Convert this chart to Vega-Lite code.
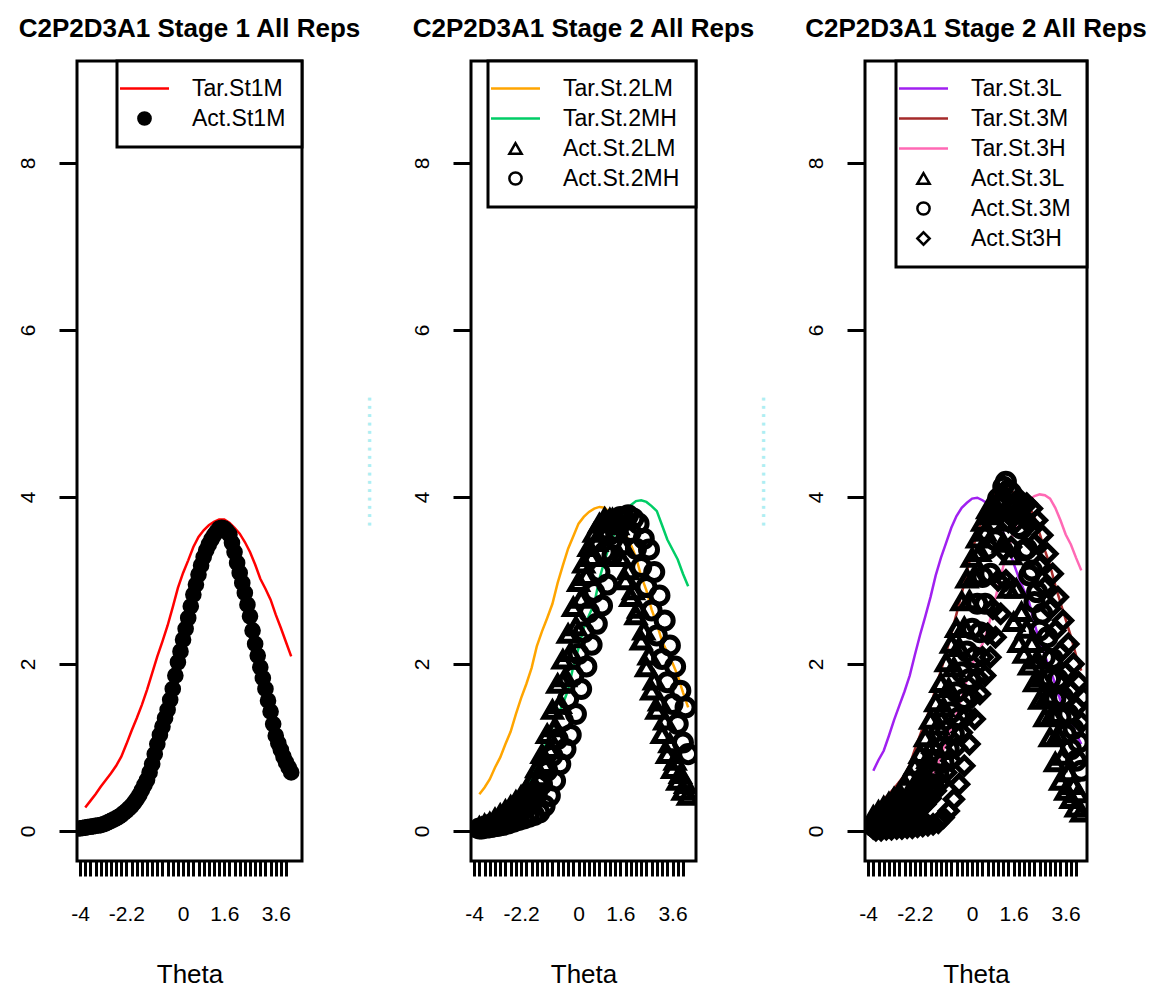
{
  "$schema": "https://vega.github.io/schema/vega-lite/v6.json",
  "background": "white",
  "padding": {"left": 15, "top": 14, "right": 4, "bottom": 3},
  "bounds": "flush",
  "spacing": 169,
  "config": {
    "view": {"stroke": "black", "strokeWidth": 3},
    "font": "Liberation Sans",
    "axis": {"grid": false, "domain": false, "tickColor": "black", "tickWidth": 3, "labelColor": "black", "labelFont": "Liberation Sans", "labelFontSize": 21, "titleFont": "Liberation Sans", "titleFontSize": 26, "titleFontWeight": "normal", "titleColor": "black", "labelFlush": false, "labelOverlap": false},
    "title": {"font": "Liberation Sans", "fontSize": 26, "fontWeight": "bold", "color": "black", "offset": 18, "anchor": "middle"},
    "legend": {"orient": "top-right", "offset": 0, "padding": 16, "rowPadding": 6, "labelOffset": 36, "labelFont": "Liberation Sans", "labelFontSize": 23, "labelColor": "black", "symbolSize": 150, "symbolStrokeWidth": 2.5, "strokeColor": "black", "strokeWidth": 3, "fillColor": "white", "labelLimit": 300, "title": null}
  },
  "resolve": {"scale": {"shape": "independent", "color": "independent", "stroke": "independent"}, "legend": {"shape": "independent", "color": "independent", "stroke": "independent"}},
  "datasets": {
    "p1tar": [
      {"t":-3.8,"y":0.28,"s":"Tar.St1M"},{"t":-3.6,"y":0.36,"s":"Tar.St1M"},{"t":-3.4,"y":0.44,"s":"Tar.St1M"},{"t":-3.2,"y":0.53,"s":"Tar.St1M"},{"t":-3.0,"y":0.61,"s":"Tar.St1M"},{"t":-2.8,"y":0.69,"s":"Tar.St1M"},{"t":-2.6,"y":0.78,"s":"Tar.St1M"},{"t":-2.4,"y":0.89,"s":"Tar.St1M"},{"t":-2.2,"y":1.04,"s":"Tar.St1M"},{"t":-2.0,"y":1.20,"s":"Tar.St1M"},{"t":-1.8,"y":1.35,"s":"Tar.St1M"},{"t":-1.6,"y":1.51,"s":"Tar.St1M"},{"t":-1.4,"y":1.69,"s":"Tar.St1M"},{"t":-1.2,"y":1.89,"s":"Tar.St1M"},{"t":-1.0,"y":2.09,"s":"Tar.St1M"},{"t":-0.8,"y":2.27,"s":"Tar.St1M"},{"t":-0.6,"y":2.46,"s":"Tar.St1M"},{"t":-0.4,"y":2.68,"s":"Tar.St1M"},{"t":-0.2,"y":2.91,"s":"Tar.St1M"},{"t":0.0,"y":3.09,"s":"Tar.St1M"},{"t":0.2,"y":3.24,"s":"Tar.St1M"},{"t":0.4,"y":3.40,"s":"Tar.St1M"},{"t":0.6,"y":3.52,"s":"Tar.St1M"},{"t":0.8,"y":3.60,"s":"Tar.St1M"},{"t":1.0,"y":3.66,"s":"Tar.St1M"},{"t":1.2,"y":3.70,"s":"Tar.St1M"},{"t":1.4,"y":3.73,"s":"Tar.St1M"},{"t":1.6,"y":3.73,"s":"Tar.St1M"},{"t":1.8,"y":3.69,"s":"Tar.St1M"},{"t":2.0,"y":3.63,"s":"Tar.St1M"},{"t":2.2,"y":3.56,"s":"Tar.St1M"},{"t":2.4,"y":3.46,"s":"Tar.St1M"},{"t":2.6,"y":3.34,"s":"Tar.St1M"},{"t":2.8,"y":3.19,"s":"Tar.St1M"},{"t":3.0,"y":3.02,"s":"Tar.St1M"},{"t":3.2,"y":2.90,"s":"Tar.St1M"},{"t":3.4,"y":2.77,"s":"Tar.St1M"},{"t":3.6,"y":2.59,"s":"Tar.St1M"},{"t":3.8,"y":2.43,"s":"Tar.St1M"},{"t":4.0,"y":2.26,"s":"Tar.St1M"},{"t":4.2,"y":2.09,"s":"Tar.St1M"}
    ],
    "p1act": [
      {"t":-4.0,"y":0.03,"s":"Act.St1M"},{"t":-3.9,"y":0.035,"s":"Act.St1M"},{"t":-3.8,"y":0.04,"s":"Act.St1M"},{"t":-3.7,"y":0.045,"s":"Act.St1M"},{"t":-3.6,"y":0.05,"s":"Act.St1M"},{"t":-3.5,"y":0.055,"s":"Act.St1M"},{"t":-3.4,"y":0.06,"s":"Act.St1M"},{"t":-3.3,"y":0.065,"s":"Act.St1M"},{"t":-3.2,"y":0.07,"s":"Act.St1M"},{"t":-3.1,"y":0.08,"s":"Act.St1M"},{"t":-3.0,"y":0.09,"s":"Act.St1M"},{"t":-2.9,"y":0.105,"s":"Act.St1M"},{"t":-2.8,"y":0.12,"s":"Act.St1M"},{"t":-2.7,"y":0.135,"s":"Act.St1M"},{"t":-2.6,"y":0.15,"s":"Act.St1M"},{"t":-2.5,"y":0.17,"s":"Act.St1M"},{"t":-2.4,"y":0.19,"s":"Act.St1M"},{"t":-2.3,"y":0.215,"s":"Act.St1M"},{"t":-2.2,"y":0.24,"s":"Act.St1M"},{"t":-2.1,"y":0.27,"s":"Act.St1M"},{"t":-2.0,"y":0.30,"s":"Act.St1M"},{"t":-1.9,"y":0.34,"s":"Act.St1M"},{"t":-1.8,"y":0.38,"s":"Act.St1M"},{"t":-1.7,"y":0.43,"s":"Act.St1M"},{"t":-1.6,"y":0.49,"s":"Act.St1M"},{"t":-1.5,"y":0.55,"s":"Act.St1M"},{"t":-1.4,"y":0.61,"s":"Act.St1M"},{"t":-1.3,"y":0.70,"s":"Act.St1M"},{"t":-1.2,"y":0.80,"s":"Act.St1M"},{"t":-1.1,"y":0.92,"s":"Act.St1M"},{"t":-1.0,"y":1.04,"s":"Act.St1M"},{"t":-0.9,"y":1.15,"s":"Act.St1M"},{"t":-0.8,"y":1.25,"s":"Act.St1M"},{"t":-0.7,"y":1.35,"s":"Act.St1M"},{"t":-0.6,"y":1.45,"s":"Act.St1M"},{"t":-0.5,"y":1.57,"s":"Act.St1M"},{"t":-0.4,"y":1.70,"s":"Act.St1M"},{"t":-0.3,"y":1.86,"s":"Act.St1M"},{"t":-0.2,"y":2.02,"s":"Act.St1M"},{"t":-0.1,"y":2.15,"s":"Act.St1M"},{"t":0.0,"y":2.29,"s":"Act.St1M"},{"t":0.1,"y":2.42,"s":"Act.St1M"},{"t":0.2,"y":2.55,"s":"Act.St1M"},{"t":0.3,"y":2.69,"s":"Act.St1M"},{"t":0.4,"y":2.83,"s":"Act.St1M"},{"t":0.5,"y":2.95,"s":"Act.St1M"},{"t":0.6,"y":3.07,"s":"Act.St1M"},{"t":0.7,"y":3.18,"s":"Act.St1M"},{"t":0.8,"y":3.28,"s":"Act.St1M"},{"t":0.9,"y":3.36,"s":"Act.St1M"},{"t":1.0,"y":3.43,"s":"Act.St1M"},{"t":1.1,"y":3.49,"s":"Act.St1M"},{"t":1.2,"y":3.54,"s":"Act.St1M"},{"t":1.3,"y":3.58,"s":"Act.St1M"},{"t":1.4,"y":3.62,"s":"Act.St1M"},{"t":1.5,"y":3.63,"s":"Act.St1M"},{"t":1.6,"y":3.62,"s":"Act.St1M"},{"t":1.7,"y":3.59,"s":"Act.St1M"},{"t":1.8,"y":3.55,"s":"Act.St1M"},{"t":1.9,"y":3.45,"s":"Act.St1M"},{"t":2.0,"y":3.34,"s":"Act.St1M"},{"t":2.1,"y":3.21,"s":"Act.St1M"},{"t":2.2,"y":3.09,"s":"Act.St1M"},{"t":2.3,"y":2.97,"s":"Act.St1M"},{"t":2.4,"y":2.85,"s":"Act.St1M"},{"t":2.5,"y":2.71,"s":"Act.St1M"},{"t":2.6,"y":2.57,"s":"Act.St1M"},{"t":2.7,"y":2.40,"s":"Act.St1M"},{"t":2.8,"y":2.24,"s":"Act.St1M"},{"t":2.9,"y":2.10,"s":"Act.St1M"},{"t":3.0,"y":1.96,"s":"Act.St1M"},{"t":3.1,"y":1.83,"s":"Act.St1M"},{"t":3.2,"y":1.70,"s":"Act.St1M"},{"t":3.3,"y":1.56,"s":"Act.St1M"},{"t":3.4,"y":1.43,"s":"Act.St1M"},{"t":3.5,"y":1.28,"s":"Act.St1M"},{"t":3.6,"y":1.14,"s":"Act.St1M"},{"t":3.7,"y":1.05,"s":"Act.St1M"},{"t":3.8,"y":0.97,"s":"Act.St1M"},{"t":3.9,"y":0.89,"s":"Act.St1M"},{"t":4.0,"y":0.82,"s":"Act.St1M"},{"t":4.1,"y":0.76,"s":"Act.St1M"},{"t":4.2,"y":0.70,"s":"Act.St1M"}
    ],
    "p2tar": [
      {"t":-3.8,"y":0.44,"s":"Tar.St.2LM"},{"t":-3.6,"y":0.52,"s":"Tar.St.2LM"},{"t":-3.4,"y":0.62,"s":"Tar.St.2LM"},{"t":-3.2,"y":0.76,"s":"Tar.St.2LM"},{"t":-3.0,"y":0.88,"s":"Tar.St.2LM"},{"t":-2.8,"y":1.04,"s":"Tar.St.2LM"},{"t":-2.6,"y":1.19,"s":"Tar.St.2LM"},{"t":-2.4,"y":1.40,"s":"Tar.St.2LM"},{"t":-2.2,"y":1.59,"s":"Tar.St.2LM"},{"t":-2.0,"y":1.76,"s":"Tar.St.2LM"},{"t":-1.8,"y":1.95,"s":"Tar.St.2LM"},{"t":-1.6,"y":2.21,"s":"Tar.St.2LM"},{"t":-1.4,"y":2.39,"s":"Tar.St.2LM"},{"t":-1.2,"y":2.55,"s":"Tar.St.2LM"},{"t":-1.0,"y":2.72,"s":"Tar.St.2LM"},{"t":-0.8,"y":2.97,"s":"Tar.St.2LM"},{"t":-0.6,"y":3.18,"s":"Tar.St.2LM"},{"t":-0.4,"y":3.38,"s":"Tar.St.2LM"},{"t":-0.2,"y":3.53,"s":"Tar.St.2LM"},{"t":0.0,"y":3.68,"s":"Tar.St.2LM"},{"t":0.2,"y":3.76,"s":"Tar.St.2LM"},{"t":0.4,"y":3.82,"s":"Tar.St.2LM"},{"t":0.6,"y":3.86,"s":"Tar.St.2LM"},{"t":0.8,"y":3.88,"s":"Tar.St.2LM"},{"t":1.0,"y":3.87,"s":"Tar.St.2LM"},{"t":1.2,"y":3.81,"s":"Tar.St.2LM"},{"t":1.4,"y":3.74,"s":"Tar.St.2LM"},{"t":1.6,"y":3.64,"s":"Tar.St.2LM"},{"t":1.8,"y":3.55,"s":"Tar.St.2LM"},{"t":2.0,"y":3.43,"s":"Tar.St.2LM"},{"t":2.2,"y":3.28,"s":"Tar.St.2LM"},{"t":2.4,"y":3.05,"s":"Tar.St.2LM"},{"t":2.6,"y":2.88,"s":"Tar.St.2LM"},{"t":2.8,"y":2.65,"s":"Tar.St.2LM"},{"t":3.0,"y":2.48,"s":"Tar.St.2LM"},{"t":3.2,"y":2.27,"s":"Tar.St.2LM"},{"t":3.4,"y":2.14,"s":"Tar.St.2LM"},{"t":3.6,"y":2.01,"s":"Tar.St.2LM"},{"t":3.8,"y":1.86,"s":"Tar.St.2LM"},{"t":4.0,"y":1.66,"s":"Tar.St.2LM"},{"t":4.2,"y":1.48,"s":"Tar.St.2LM"},
      {"t":-3.8,"y":0.10,"s":"Tar.St.2MH"},{"t":-3.6,"y":0.12,"s":"Tar.St.2MH"},{"t":-3.4,"y":0.14,"s":"Tar.St.2MH"},{"t":-3.2,"y":0.18,"s":"Tar.St.2MH"},{"t":-3.0,"y":0.22,"s":"Tar.St.2MH"},{"t":-2.8,"y":0.25,"s":"Tar.St.2MH"},{"t":-2.6,"y":0.30,"s":"Tar.St.2MH"},{"t":-2.4,"y":0.36,"s":"Tar.St.2MH"},{"t":-2.2,"y":0.43,"s":"Tar.St.2MH"},{"t":-2.0,"y":0.52,"s":"Tar.St.2MH"},{"t":-1.8,"y":0.63,"s":"Tar.St.2MH"},{"t":-1.6,"y":0.78,"s":"Tar.St.2MH"},{"t":-1.4,"y":0.95,"s":"Tar.St.2MH"},{"t":-1.2,"y":1.07,"s":"Tar.St.2MH"},{"t":-1.0,"y":1.25,"s":"Tar.St.2MH"},{"t":-0.8,"y":1.39,"s":"Tar.St.2MH"},{"t":-0.6,"y":1.52,"s":"Tar.St.2MH"},{"t":-0.4,"y":1.69,"s":"Tar.St.2MH"},{"t":-0.2,"y":1.97,"s":"Tar.St.2MH"},{"t":0.0,"y":2.19,"s":"Tar.St.2MH"},{"t":0.2,"y":2.43,"s":"Tar.St.2MH"},{"t":0.4,"y":2.58,"s":"Tar.St.2MH"},{"t":0.6,"y":2.72,"s":"Tar.St.2MH"},{"t":0.8,"y":3.02,"s":"Tar.St.2MH"},{"t":1.0,"y":3.24,"s":"Tar.St.2MH"},{"t":1.2,"y":3.43,"s":"Tar.St.2MH"},{"t":1.4,"y":3.58,"s":"Tar.St.2MH"},{"t":1.6,"y":3.72,"s":"Tar.St.2MH"},{"t":1.8,"y":3.83,"s":"Tar.St.2MH"},{"t":2.0,"y":3.90,"s":"Tar.St.2MH"},{"t":2.2,"y":3.95,"s":"Tar.St.2MH"},{"t":2.4,"y":3.96,"s":"Tar.St.2MH"},{"t":2.6,"y":3.94,"s":"Tar.St.2MH"},{"t":2.8,"y":3.89,"s":"Tar.St.2MH"},{"t":3.0,"y":3.83,"s":"Tar.St.2MH"},{"t":3.2,"y":3.66,"s":"Tar.St.2MH"},{"t":3.4,"y":3.49,"s":"Tar.St.2MH"},{"t":3.6,"y":3.37,"s":"Tar.St.2MH"},{"t":3.8,"y":3.25,"s":"Tar.St.2MH"},{"t":4.0,"y":3.08,"s":"Tar.St.2MH"},{"t":4.2,"y":2.93,"s":"Tar.St.2MH"}
    ],
    "p2act": [
      {"t":-3.8,"y":0.05,"s":"Act.St.2LM"},{"t":-3.6,"y":0.08,"s":"Act.St.2LM"},{"t":-3.4,"y":0.10,"s":"Act.St.2LM"},{"t":-3.2,"y":0.15,"s":"Act.St.2LM"},{"t":-3.0,"y":0.20,"s":"Act.St.2LM"},{"t":-2.8,"y":0.25,"s":"Act.St.2LM"},{"t":-2.6,"y":0.30,"s":"Act.St.2LM"},{"t":-2.4,"y":0.36,"s":"Act.St.2LM"},{"t":-2.2,"y":0.42,"s":"Act.St.2LM"},{"t":-2.0,"y":0.50,"s":"Act.St.2LM"},{"t":-1.8,"y":0.60,"s":"Act.St.2LM"},{"t":-1.6,"y":0.75,"s":"Act.St.2LM"},{"t":-1.4,"y":0.92,"s":"Act.St.2LM"},{"t":-1.2,"y":1.16,"s":"Act.St.2LM"},{"t":-1.0,"y":1.45,"s":"Act.St.2LM"},{"t":-0.8,"y":1.76,"s":"Act.St.2LM"},{"t":-0.6,"y":2.05,"s":"Act.St.2LM"},{"t":-0.4,"y":2.36,"s":"Act.St.2LM"},{"t":-0.2,"y":2.68,"s":"Act.St.2LM"},{"t":0.0,"y":2.98,"s":"Act.St.2LM"},{"t":0.2,"y":3.20,"s":"Act.St.2LM"},{"t":0.4,"y":3.40,"s":"Act.St.2LM"},{"t":0.6,"y":3.57,"s":"Act.St.2LM"},{"t":0.8,"y":3.68,"s":"Act.St.2LM"},{"t":1.0,"y":3.75,"s":"Act.St.2LM"},{"t":1.2,"y":3.74,"s":"Act.St.2LM"},{"t":1.4,"y":3.58,"s":"Act.St.2LM"},{"t":1.6,"y":3.28,"s":"Act.St.2LM"},{"t":1.8,"y":3.00,"s":"Act.St.2LM"},{"t":2.0,"y":2.80,"s":"Act.St.2LM"},{"t":2.2,"y":2.58,"s":"Act.St.2LM"},{"t":2.4,"y":2.28,"s":"Act.St.2LM"},{"t":2.6,"y":1.96,"s":"Act.St.2LM"},{"t":2.8,"y":1.68,"s":"Act.St.2LM"},{"t":3.0,"y":1.45,"s":"Act.St.2LM"},{"t":3.2,"y":1.16,"s":"Act.St.2LM"},{"t":3.4,"y":0.92,"s":"Act.St.2LM"},{"t":3.6,"y":0.74,"s":"Act.St.2LM"},{"t":3.8,"y":0.60,"s":"Act.St.2LM"},{"t":4.0,"y":0.48,"s":"Act.St.2LM"},{"t":4.2,"y":0.42,"s":"Act.St.2LM"},
      {"t":-3.7,"y":0.04,"s":"Act.St.2LM"},{"t":-3.5,"y":0.06,"s":"Act.St.2LM"},{"t":-3.3,"y":0.08,"s":"Act.St.2LM"},{"t":-3.1,"y":0.11,"s":"Act.St.2LM"},{"t":-2.9,"y":0.15,"s":"Act.St.2LM"},{"t":-2.7,"y":0.19,"s":"Act.St.2LM"},{"t":-2.5,"y":0.24,"s":"Act.St.2LM"},{"t":-2.3,"y":0.30,"s":"Act.St.2LM"},{"t":-2.1,"y":0.36,"s":"Act.St.2LM"},{"t":-1.9,"y":0.43,"s":"Act.St.2LM"},{"t":-1.7,"y":0.52,"s":"Act.St.2LM"},{"t":-1.5,"y":0.64,"s":"Act.St.2LM"},{"t":-1.3,"y":0.80,"s":"Act.St.2LM"},{"t":-1.1,"y":0.98,"s":"Act.St.2LM"},{"t":-0.9,"y":1.24,"s":"Act.St.2LM"},{"t":-0.7,"y":1.52,"s":"Act.St.2LM"},{"t":-0.5,"y":1.84,"s":"Act.St.2LM"},{"t":-0.3,"y":2.14,"s":"Act.St.2LM"},{"t":-0.1,"y":2.45,"s":"Act.St.2LM"},{"t":0.1,"y":2.78,"s":"Act.St.2LM"},{"t":0.3,"y":3.05,"s":"Act.St.2LM"},{"t":0.5,"y":3.28,"s":"Act.St.2LM"},{"t":0.7,"y":3.46,"s":"Act.St.2LM"},{"t":0.9,"y":3.60,"s":"Act.St.2LM"},{"t":1.1,"y":3.70,"s":"Act.St.2LM"},{"t":1.3,"y":3.74,"s":"Act.St.2LM"},{"t":1.5,"y":3.66,"s":"Act.St.2LM"},{"t":1.7,"y":3.42,"s":"Act.St.2LM"},{"t":1.9,"y":3.12,"s":"Act.St.2LM"},{"t":2.1,"y":2.88,"s":"Act.St.2LM"},{"t":2.3,"y":2.66,"s":"Act.St.2LM"},{"t":2.5,"y":2.40,"s":"Act.St.2LM"},{"t":2.7,"y":2.10,"s":"Act.St.2LM"},{"t":2.9,"y":1.80,"s":"Act.St.2LM"},{"t":3.1,"y":1.55,"s":"Act.St.2LM"},{"t":3.3,"y":1.32,"s":"Act.St.2LM"},{"t":3.5,"y":1.05,"s":"Act.St.2LM"},{"t":3.7,"y":0.84,"s":"Act.St.2LM"},{"t":3.9,"y":0.68,"s":"Act.St.2LM"},{"t":4.1,"y":0.56,"s":"Act.St.2LM"},
      {"t":-3.8,"y":0.03,"s":"Act.St.2MH"},{"t":-3.6,"y":0.05,"s":"Act.St.2MH"},{"t":-3.4,"y":0.07,"s":"Act.St.2MH"},{"t":-3.2,"y":0.09,"s":"Act.St.2MH"},{"t":-3.0,"y":0.11,"s":"Act.St.2MH"},{"t":-2.8,"y":0.13,"s":"Act.St.2MH"},{"t":-2.6,"y":0.16,"s":"Act.St.2MH"},{"t":-2.4,"y":0.19,"s":"Act.St.2MH"},{"t":-2.2,"y":0.23,"s":"Act.St.2MH"},{"t":-2.0,"y":0.28,"s":"Act.St.2MH"},{"t":-1.8,"y":0.34,"s":"Act.St.2MH"},{"t":-1.6,"y":0.44,"s":"Act.St.2MH"},{"t":-1.4,"y":0.56,"s":"Act.St.2MH"},{"t":-1.2,"y":0.72,"s":"Act.St.2MH"},{"t":-1.0,"y":0.90,"s":"Act.St.2MH"},{"t":-0.8,"y":1.10,"s":"Act.St.2MH"},{"t":-0.6,"y":1.32,"s":"Act.St.2MH"},{"t":-0.4,"y":1.58,"s":"Act.St.2MH"},{"t":-0.2,"y":1.86,"s":"Act.St.2MH"},{"t":0.0,"y":2.12,"s":"Act.St.2MH"},{"t":0.2,"y":2.38,"s":"Act.St.2MH"},{"t":0.4,"y":2.62,"s":"Act.St.2MH"},{"t":0.6,"y":2.86,"s":"Act.St.2MH"},{"t":0.8,"y":3.10,"s":"Act.St.2MH"},{"t":1.0,"y":3.34,"s":"Act.St.2MH"},{"t":1.2,"y":3.55,"s":"Act.St.2MH"},{"t":1.4,"y":3.70,"s":"Act.St.2MH"},{"t":1.6,"y":3.76,"s":"Act.St.2MH"},{"t":1.8,"y":3.72,"s":"Act.St.2MH"},{"t":2.0,"y":3.58,"s":"Act.St.2MH"},{"t":2.2,"y":3.38,"s":"Act.St.2MH"},{"t":2.4,"y":3.16,"s":"Act.St.2MH"},{"t":2.6,"y":2.92,"s":"Act.St.2MH"},{"t":2.8,"y":2.64,"s":"Act.St.2MH"},{"t":3.0,"y":2.34,"s":"Act.St.2MH"},{"t":3.2,"y":2.06,"s":"Act.St.2MH"},{"t":3.4,"y":1.78,"s":"Act.St.2MH"},{"t":3.6,"y":1.52,"s":"Act.St.2MH"},{"t":3.8,"y":1.28,"s":"Act.St.2MH"},{"t":4.0,"y":1.06,"s":"Act.St.2MH"},{"t":4.2,"y":0.92,"s":"Act.St.2MH"},
      {"t":-3.7,"y":0.03,"s":"Act.St.2MH"},{"t":-3.5,"y":0.04,"s":"Act.St.2MH"},{"t":-3.3,"y":0.05,"s":"Act.St.2MH"},{"t":-3.1,"y":0.06,"s":"Act.St.2MH"},{"t":-2.9,"y":0.07,"s":"Act.St.2MH"},{"t":-2.7,"y":0.09,"s":"Act.St.2MH"},{"t":-2.5,"y":0.11,"s":"Act.St.2MH"},{"t":-2.3,"y":0.13,"s":"Act.St.2MH"},{"t":-2.1,"y":0.15,"s":"Act.St.2MH"},{"t":-1.9,"y":0.17,"s":"Act.St.2MH"},{"t":-1.7,"y":0.19,"s":"Act.St.2MH"},{"t":-1.5,"y":0.22,"s":"Act.St.2MH"},{"t":-1.3,"y":0.30,"s":"Act.St.2MH"},{"t":-1.1,"y":0.42,"s":"Act.St.2MH"},{"t":-0.9,"y":0.60,"s":"Act.St.2MH"},{"t":-0.7,"y":0.80,"s":"Act.St.2MH"},{"t":-0.5,"y":0.98,"s":"Act.St.2MH"},{"t":-0.3,"y":1.15,"s":"Act.St.2MH"},{"t":-0.1,"y":1.40,"s":"Act.St.2MH"},{"t":0.1,"y":1.70,"s":"Act.St.2MH"},{"t":0.3,"y":1.97,"s":"Act.St.2MH"},{"t":0.5,"y":2.23,"s":"Act.St.2MH"},{"t":0.7,"y":2.48,"s":"Act.St.2MH"},{"t":0.9,"y":2.70,"s":"Act.St.2MH"},{"t":1.1,"y":2.95,"s":"Act.St.2MH"},{"t":1.3,"y":3.30,"s":"Act.St.2MH"},{"t":1.5,"y":3.58,"s":"Act.St.2MH"},{"t":1.7,"y":3.74,"s":"Act.St.2MH"},{"t":1.9,"y":3.78,"s":"Act.St.2MH"},{"t":2.1,"y":3.74,"s":"Act.St.2MH"},{"t":2.3,"y":3.68,"s":"Act.St.2MH"},{"t":2.5,"y":3.50,"s":"Act.St.2MH"},{"t":2.7,"y":3.37,"s":"Act.St.2MH"},{"t":2.9,"y":3.10,"s":"Act.St.2MH"},{"t":3.1,"y":2.82,"s":"Act.St.2MH"},{"t":3.3,"y":2.52,"s":"Act.St.2MH"},{"t":3.5,"y":2.22,"s":"Act.St.2MH"},{"t":3.7,"y":1.97,"s":"Act.St.2MH"},{"t":3.9,"y":1.68,"s":"Act.St.2MH"},{"t":4.1,"y":1.48,"s":"Act.St.2MH"}
    ],
    "p3tar": [
      {"t":-3.8,"y":0.72,"s":"Tar.St.3L"},{"t":-3.6,"y":0.85,"s":"Tar.St.3L"},{"t":-3.4,"y":0.96,"s":"Tar.St.3L"},{"t":-3.2,"y":1.14,"s":"Tar.St.3L"},{"t":-3.0,"y":1.33,"s":"Tar.St.3L"},{"t":-2.8,"y":1.50,"s":"Tar.St.3L"},{"t":-2.6,"y":1.67,"s":"Tar.St.3L"},{"t":-2.4,"y":1.86,"s":"Tar.St.3L"},{"t":-2.2,"y":2.11,"s":"Tar.St.3L"},{"t":-2.0,"y":2.35,"s":"Tar.St.3L"},{"t":-1.8,"y":2.57,"s":"Tar.St.3L"},{"t":-1.6,"y":2.80,"s":"Tar.St.3L"},{"t":-1.4,"y":3.06,"s":"Tar.St.3L"},{"t":-1.2,"y":3.27,"s":"Tar.St.3L"},{"t":-1.0,"y":3.45,"s":"Tar.St.3L"},{"t":-0.8,"y":3.63,"s":"Tar.St.3L"},{"t":-0.6,"y":3.77,"s":"Tar.St.3L"},{"t":-0.4,"y":3.87,"s":"Tar.St.3L"},{"t":-0.2,"y":3.93,"s":"Tar.St.3L"},{"t":0.0,"y":3.98,"s":"Tar.St.3L"},{"t":0.2,"y":3.99,"s":"Tar.St.3L"},{"t":0.4,"y":3.96,"s":"Tar.St.3L"},{"t":0.6,"y":3.92,"s":"Tar.St.3L"},{"t":0.8,"y":3.80,"s":"Tar.St.3L"},{"t":1.0,"y":3.69,"s":"Tar.St.3L"},{"t":1.2,"y":3.57,"s":"Tar.St.3L"},{"t":1.4,"y":3.39,"s":"Tar.St.3L"},{"t":1.6,"y":3.20,"s":"Tar.St.3L"},{"t":1.8,"y":3.03,"s":"Tar.St.3L"},{"t":2.0,"y":2.88,"s":"Tar.St.3L"},{"t":2.2,"y":2.73,"s":"Tar.St.3L"},{"t":2.4,"y":2.48,"s":"Tar.St.3L"},{"t":2.6,"y":2.27,"s":"Tar.St.3L"},{"t":2.8,"y":2.10,"s":"Tar.St.3L"},{"t":3.0,"y":1.93,"s":"Tar.St.3L"},{"t":3.2,"y":1.76,"s":"Tar.St.3L"},{"t":3.4,"y":1.56,"s":"Tar.St.3L"},{"t":3.6,"y":1.44,"s":"Tar.St.3L"},{"t":3.8,"y":1.30,"s":"Tar.St.3L"},{"t":4.0,"y":1.16,"s":"Tar.St.3L"},{"t":4.2,"y":1.04,"s":"Tar.St.3L"},
      {"t":-3.8,"y":0.24,"s":"Tar.St.3M"},{"t":-3.6,"y":0.32,"s":"Tar.St.3M"},{"t":-3.4,"y":0.38,"s":"Tar.St.3M"},{"t":-3.2,"y":0.44,"s":"Tar.St.3M"},{"t":-3.0,"y":0.51,"s":"Tar.St.3M"},{"t":-2.8,"y":0.59,"s":"Tar.St.3M"},{"t":-2.6,"y":0.67,"s":"Tar.St.3M"},{"t":-2.4,"y":0.79,"s":"Tar.St.3M"},{"t":-2.2,"y":0.98,"s":"Tar.St.3M"},{"t":-2.0,"y":1.15,"s":"Tar.St.3M"},{"t":-1.8,"y":1.32,"s":"Tar.St.3M"},{"t":-1.6,"y":1.48,"s":"Tar.St.3M"},{"t":-1.4,"y":1.72,"s":"Tar.St.3M"},{"t":-1.2,"y":1.92,"s":"Tar.St.3M"},{"t":-1.0,"y":2.13,"s":"Tar.St.3M"},{"t":-0.8,"y":2.36,"s":"Tar.St.3M"},{"t":-0.6,"y":2.60,"s":"Tar.St.3M"},{"t":-0.4,"y":2.84,"s":"Tar.St.3M"},{"t":-0.2,"y":3.10,"s":"Tar.St.3M"},{"t":0.0,"y":3.35,"s":"Tar.St.3M"},{"t":0.2,"y":3.57,"s":"Tar.St.3M"},{"t":0.4,"y":3.74,"s":"Tar.St.3M"},{"t":0.6,"y":3.88,"s":"Tar.St.3M"},{"t":0.8,"y":4.00,"s":"Tar.St.3M"},{"t":1.0,"y":4.10,"s":"Tar.St.3M"},{"t":1.2,"y":4.12,"s":"Tar.St.3M"},{"t":1.4,"y":4.10,"s":"Tar.St.3M"},{"t":1.6,"y":4.05,"s":"Tar.St.3M"},{"t":1.8,"y":4.00,"s":"Tar.St.3M"},{"t":2.0,"y":3.96,"s":"Tar.St.3M"},{"t":2.2,"y":3.88,"s":"Tar.St.3M"},{"t":2.4,"y":3.76,"s":"Tar.St.3M"},{"t":2.6,"y":3.56,"s":"Tar.St.3M"},{"t":2.8,"y":3.36,"s":"Tar.St.3M"},{"t":3.0,"y":3.18,"s":"Tar.St.3M"},{"t":3.2,"y":2.94,"s":"Tar.St.3M"},{"t":3.4,"y":2.73,"s":"Tar.St.3M"},{"t":3.6,"y":2.53,"s":"Tar.St.3M"},{"t":3.8,"y":2.33,"s":"Tar.St.3M"},{"t":4.0,"y":2.10,"s":"Tar.St.3M"},{"t":4.2,"y":1.92,"s":"Tar.St.3M"},
      {"t":-3.8,"y":0.08,"s":"Tar.St.3H"},{"t":-3.6,"y":0.11,"s":"Tar.St.3H"},{"t":-3.4,"y":0.13,"s":"Tar.St.3H"},{"t":-3.2,"y":0.16,"s":"Tar.St.3H"},{"t":-3.0,"y":0.21,"s":"Tar.St.3H"},{"t":-2.8,"y":0.25,"s":"Tar.St.3H"},{"t":-2.6,"y":0.29,"s":"Tar.St.3H"},{"t":-2.4,"y":0.34,"s":"Tar.St.3H"},{"t":-2.2,"y":0.40,"s":"Tar.St.3H"},{"t":-2.0,"y":0.46,"s":"Tar.St.3H"},{"t":-1.8,"y":0.54,"s":"Tar.St.3H"},{"t":-1.6,"y":0.63,"s":"Tar.St.3H"},{"t":-1.4,"y":0.73,"s":"Tar.St.3H"},{"t":-1.2,"y":0.89,"s":"Tar.St.3H"},{"t":-1.0,"y":1.07,"s":"Tar.St.3H"},{"t":-0.8,"y":1.24,"s":"Tar.St.3H"},{"t":-0.6,"y":1.40,"s":"Tar.St.3H"},{"t":-0.4,"y":1.60,"s":"Tar.St.3H"},{"t":-0.2,"y":1.81,"s":"Tar.St.3H"},{"t":0.0,"y":1.99,"s":"Tar.St.3H"},{"t":0.2,"y":2.12,"s":"Tar.St.3H"},{"t":0.4,"y":2.24,"s":"Tar.St.3H"},{"t":0.6,"y":2.42,"s":"Tar.St.3H"},{"t":0.8,"y":2.66,"s":"Tar.St.3H"},{"t":1.0,"y":2.92,"s":"Tar.St.3H"},{"t":1.2,"y":3.17,"s":"Tar.St.3H"},{"t":1.4,"y":3.38,"s":"Tar.St.3H"},{"t":1.6,"y":3.58,"s":"Tar.St.3H"},{"t":1.8,"y":3.76,"s":"Tar.St.3H"},{"t":2.0,"y":3.89,"s":"Tar.St.3H"},{"t":2.2,"y":3.97,"s":"Tar.St.3H"},{"t":2.4,"y":4.01,"s":"Tar.St.3H"},{"t":2.6,"y":4.03,"s":"Tar.St.3H"},{"t":2.8,"y":4.02,"s":"Tar.St.3H"},{"t":3.0,"y":3.98,"s":"Tar.St.3H"},{"t":3.2,"y":3.87,"s":"Tar.St.3H"},{"t":3.4,"y":3.72,"s":"Tar.St.3H"},{"t":3.6,"y":3.55,"s":"Tar.St.3H"},{"t":3.8,"y":3.43,"s":"Tar.St.3H"},{"t":4.0,"y":3.27,"s":"Tar.St.3H"},{"t":4.2,"y":3.12,"s":"Tar.St.3H"}
    ],
    "p3act": [
      {"t":-3.8,"y":0.18,"s":"Act.St.3L"},{"t":-3.6,"y":0.24,"s":"Act.St.3L"},{"t":-3.4,"y":0.29,"s":"Act.St.3L"},{"t":-3.2,"y":0.34,"s":"Act.St.3L"},{"t":-3.0,"y":0.40,"s":"Act.St.3L"},{"t":-2.8,"y":0.46,"s":"Act.St.3L"},{"t":-2.6,"y":0.56,"s":"Act.St.3L"},{"t":-2.4,"y":0.66,"s":"Act.St.3L"},{"t":-2.2,"y":0.78,"s":"Act.St.3L"},{"t":-2.0,"y":0.92,"s":"Act.St.3L"},{"t":-1.8,"y":1.12,"s":"Act.St.3L"},{"t":-1.6,"y":1.33,"s":"Act.St.3L"},{"t":-1.4,"y":1.54,"s":"Act.St.3L"},{"t":-1.2,"y":1.77,"s":"Act.St.3L"},{"t":-1.0,"y":2.02,"s":"Act.St.3L"},{"t":-0.8,"y":2.24,"s":"Act.St.3L"},{"t":-0.6,"y":2.43,"s":"Act.St.3L"},{"t":-0.4,"y":2.75,"s":"Act.St.3L"},{"t":-0.2,"y":3.02,"s":"Act.St.3L"},{"t":0.0,"y":3.27,"s":"Act.St.3L"},{"t":0.2,"y":3.50,"s":"Act.St.3L"},{"t":0.4,"y":3.70,"s":"Act.St.3L"},{"t":0.6,"y":3.85,"s":"Act.St.3L"},{"t":0.8,"y":3.92,"s":"Act.St.3L"},{"t":1.0,"y":3.82,"s":"Act.St.3L"},{"t":1.2,"y":3.45,"s":"Act.St.3L"},{"t":1.4,"y":2.90,"s":"Act.St.3L"},{"t":1.6,"y":2.50,"s":"Act.St.3L"},{"t":1.8,"y":2.25,"s":"Act.St.3L"},{"t":2.0,"y":2.12,"s":"Act.St.3L"},{"t":2.2,"y":1.98,"s":"Act.St.3L"},{"t":2.4,"y":1.78,"s":"Act.St.3L"},{"t":2.6,"y":1.57,"s":"Act.St.3L"},{"t":2.8,"y":1.36,"s":"Act.St.3L"},{"t":3.0,"y":1.12,"s":"Act.St.3L"},{"t":3.2,"y":0.82,"s":"Act.St.3L"},{"t":3.4,"y":0.60,"s":"Act.St.3L"},{"t":3.6,"y":0.48,"s":"Act.St.3L"},{"t":3.8,"y":0.38,"s":"Act.St.3L"},{"t":4.0,"y":0.28,"s":"Act.St.3L"},{"t":4.2,"y":0.22,"s":"Act.St.3L"},
      {"t":-3.7,"y":0.12,"s":"Act.St.3L"},{"t":-3.5,"y":0.16,"s":"Act.St.3L"},{"t":-3.3,"y":0.21,"s":"Act.St.3L"},{"t":-3.1,"y":0.26,"s":"Act.St.3L"},{"t":-2.9,"y":0.31,"s":"Act.St.3L"},{"t":-2.7,"y":0.36,"s":"Act.St.3L"},{"t":-2.5,"y":0.42,"s":"Act.St.3L"},{"t":-2.3,"y":0.50,"s":"Act.St.3L"},{"t":-2.1,"y":0.60,"s":"Act.St.3L"},{"t":-1.9,"y":0.72,"s":"Act.St.3L"},{"t":-1.7,"y":0.86,"s":"Act.St.3L"},{"t":-1.5,"y":1.04,"s":"Act.St.3L"},{"t":-1.3,"y":1.26,"s":"Act.St.3L"},{"t":-1.1,"y":1.48,"s":"Act.St.3L"},{"t":-0.9,"y":1.71,"s":"Act.St.3L"},{"t":-0.7,"y":1.96,"s":"Act.St.3L"},{"t":-0.5,"y":2.20,"s":"Act.St.3L"},{"t":-0.3,"y":2.44,"s":"Act.St.3L"},{"t":-0.1,"y":2.76,"s":"Act.St.3L"},{"t":0.1,"y":3.06,"s":"Act.St.3L"},{"t":0.3,"y":3.34,"s":"Act.St.3L"},{"t":0.5,"y":3.58,"s":"Act.St.3L"},{"t":0.7,"y":3.78,"s":"Act.St.3L"},{"t":0.9,"y":3.90,"s":"Act.St.3L"},{"t":1.1,"y":3.92,"s":"Act.St.3L"},{"t":1.3,"y":3.70,"s":"Act.St.3L"},{"t":1.5,"y":3.30,"s":"Act.St.3L"},{"t":1.7,"y":2.90,"s":"Act.St.3L"},{"t":1.9,"y":2.62,"s":"Act.St.3L"},{"t":2.1,"y":2.42,"s":"Act.St.3L"},{"t":2.3,"y":2.25,"s":"Act.St.3L"},{"t":2.5,"y":2.05,"s":"Act.St.3L"},{"t":2.7,"y":1.84,"s":"Act.St.3L"},{"t":2.9,"y":1.62,"s":"Act.St.3L"},{"t":3.1,"y":1.40,"s":"Act.St.3L"},{"t":3.3,"y":1.15,"s":"Act.St.3L"},{"t":3.5,"y":0.90,"s":"Act.St.3L"},{"t":3.7,"y":0.70,"s":"Act.St.3L"},{"t":3.9,"y":0.55,"s":"Act.St.3L"},{"t":4.1,"y":0.45,"s":"Act.St.3L"},
      {"t":-3.8,"y":0.06,"s":"Act.St.3M"},{"t":-3.6,"y":0.08,"s":"Act.St.3M"},{"t":-3.4,"y":0.10,"s":"Act.St.3M"},{"t":-3.2,"y":0.13,"s":"Act.St.3M"},{"t":-3.0,"y":0.17,"s":"Act.St.3M"},{"t":-2.8,"y":0.21,"s":"Act.St.3M"},{"t":-2.6,"y":0.26,"s":"Act.St.3M"},{"t":-2.4,"y":0.32,"s":"Act.St.3M"},{"t":-2.2,"y":0.40,"s":"Act.St.3M"},{"t":-2.0,"y":0.48,"s":"Act.St.3M"},{"t":-1.8,"y":0.58,"s":"Act.St.3M"},{"t":-1.6,"y":0.70,"s":"Act.St.3M"},{"t":-1.4,"y":0.84,"s":"Act.St.3M"},{"t":-1.2,"y":1.00,"s":"Act.St.3M"},{"t":-1.0,"y":1.20,"s":"Act.St.3M"},{"t":-0.8,"y":1.42,"s":"Act.St.3M"},{"t":-0.6,"y":1.66,"s":"Act.St.3M"},{"t":-0.4,"y":1.90,"s":"Act.St.3M"},{"t":-0.2,"y":2.15,"s":"Act.St.3M"},{"t":0.0,"y":2.42,"s":"Act.St.3M"},{"t":0.2,"y":2.72,"s":"Act.St.3M"},{"t":0.4,"y":3.04,"s":"Act.St.3M"},{"t":0.6,"y":3.38,"s":"Act.St.3M"},{"t":0.8,"y":3.70,"s":"Act.St.3M"},{"t":1.0,"y":3.98,"s":"Act.St.3M"},{"t":1.2,"y":4.12,"s":"Act.St.3M"},{"t":1.4,"y":4.08,"s":"Act.St.3M"},{"t":1.6,"y":3.90,"s":"Act.St.3M"},{"t":1.8,"y":3.64,"s":"Act.St.3M"},{"t":2.0,"y":3.36,"s":"Act.St.3M"},{"t":2.2,"y":3.06,"s":"Act.St.3M"},{"t":2.4,"y":2.74,"s":"Act.St.3M"},{"t":2.6,"y":2.40,"s":"Act.St.3M"},{"t":2.8,"y":2.08,"s":"Act.St.3M"},{"t":3.0,"y":1.82,"s":"Act.St.3M"},{"t":3.2,"y":1.58,"s":"Act.St.3M"},{"t":3.4,"y":1.36,"s":"Act.St.3M"},{"t":3.6,"y":1.16,"s":"Act.St.3M"},{"t":3.8,"y":0.98,"s":"Act.St.3M"},{"t":4.0,"y":0.84,"s":"Act.St.3M"},{"t":4.2,"y":0.72,"s":"Act.St.3M"},
      {"t":-3.7,"y":0.04,"s":"Act.St.3M"},{"t":-3.5,"y":0.06,"s":"Act.St.3M"},{"t":-3.3,"y":0.08,"s":"Act.St.3M"},{"t":-3.1,"y":0.10,"s":"Act.St.3M"},{"t":-2.9,"y":0.13,"s":"Act.St.3M"},{"t":-2.7,"y":0.16,"s":"Act.St.3M"},{"t":-2.5,"y":0.20,"s":"Act.St.3M"},{"t":-2.3,"y":0.25,"s":"Act.St.3M"},{"t":-2.1,"y":0.31,"s":"Act.St.3M"},{"t":-1.9,"y":0.38,"s":"Act.St.3M"},{"t":-1.7,"y":0.46,"s":"Act.St.3M"},{"t":-1.5,"y":0.56,"s":"Act.St.3M"},{"t":-1.3,"y":0.68,"s":"Act.St.3M"},{"t":-1.1,"y":0.82,"s":"Act.St.3M"},{"t":-0.9,"y":0.98,"s":"Act.St.3M"},{"t":-0.7,"y":1.16,"s":"Act.St.3M"},{"t":-0.5,"y":1.36,"s":"Act.St.3M"},{"t":-0.3,"y":1.58,"s":"Act.St.3M"},{"t":-0.1,"y":1.82,"s":"Act.St.3M"},{"t":0.1,"y":2.08,"s":"Act.St.3M"},{"t":0.3,"y":2.38,"s":"Act.St.3M"},{"t":0.5,"y":2.72,"s":"Act.St.3M"},{"t":0.7,"y":3.08,"s":"Act.St.3M"},{"t":0.9,"y":3.48,"s":"Act.St.3M"},{"t":1.1,"y":3.90,"s":"Act.St.3M"},{"t":1.3,"y":4.18,"s":"Act.St.3M"},{"t":1.5,"y":4.05,"s":"Act.St.3M"},{"t":1.7,"y":3.85,"s":"Act.St.3M"},{"t":1.9,"y":3.62,"s":"Act.St.3M"},{"t":2.1,"y":3.38,"s":"Act.St.3M"},{"t":2.3,"y":3.12,"s":"Act.St.3M"},{"t":2.5,"y":2.86,"s":"Act.St.3M"},{"t":2.7,"y":2.60,"s":"Act.St.3M"},{"t":2.9,"y":2.32,"s":"Act.St.3M"},{"t":3.1,"y":2.06,"s":"Act.St.3M"},{"t":3.3,"y":1.82,"s":"Act.St.3M"},{"t":3.5,"y":1.60,"s":"Act.St.3M"},{"t":3.7,"y":1.40,"s":"Act.St.3M"},{"t":3.9,"y":1.22,"s":"Act.St.3M"},{"t":4.1,"y":1.06,"s":"Act.St.3M"},
      {"t":-3.8,"y":0.03,"s":"Act.St3H"},{"t":-3.6,"y":0.04,"s":"Act.St3H"},{"t":-3.4,"y":0.05,"s":"Act.St3H"},{"t":-3.2,"y":0.07,"s":"Act.St3H"},{"t":-3.0,"y":0.09,"s":"Act.St3H"},{"t":-2.8,"y":0.11,"s":"Act.St3H"},{"t":-2.6,"y":0.14,"s":"Act.St3H"},{"t":-2.4,"y":0.17,"s":"Act.St3H"},{"t":-2.2,"y":0.21,"s":"Act.St3H"},{"t":-2.0,"y":0.26,"s":"Act.St3H"},{"t":-1.8,"y":0.32,"s":"Act.St3H"},{"t":-1.6,"y":0.39,"s":"Act.St3H"},{"t":-1.4,"y":0.48,"s":"Act.St3H"},{"t":-1.2,"y":0.58,"s":"Act.St3H"},{"t":-1.0,"y":0.70,"s":"Act.St3H"},{"t":-0.8,"y":0.84,"s":"Act.St3H"},{"t":-0.6,"y":1.00,"s":"Act.St3H"},{"t":-0.4,"y":1.18,"s":"Act.St3H"},{"t":-0.2,"y":1.38,"s":"Act.St3H"},{"t":0.0,"y":1.60,"s":"Act.St3H"},{"t":0.2,"y":1.84,"s":"Act.St3H"},{"t":0.4,"y":2.08,"s":"Act.St3H"},{"t":0.6,"y":2.36,"s":"Act.St3H"},{"t":0.8,"y":2.66,"s":"Act.St3H"},{"t":1.0,"y":3.00,"s":"Act.St3H"},{"t":1.2,"y":3.36,"s":"Act.St3H"},{"t":1.4,"y":3.70,"s":"Act.St3H"},{"t":1.6,"y":3.92,"s":"Act.St3H"},{"t":1.8,"y":3.98,"s":"Act.St3H"},{"t":2.0,"y":3.88,"s":"Act.St3H"},{"t":2.2,"y":3.68,"s":"Act.St3H"},{"t":2.4,"y":3.44,"s":"Act.St3H"},{"t":2.6,"y":3.18,"s":"Act.St3H"},{"t":2.8,"y":2.92,"s":"Act.St3H"},{"t":3.0,"y":2.66,"s":"Act.St3H"},{"t":3.2,"y":2.40,"s":"Act.St3H"},{"t":3.4,"y":2.14,"s":"Act.St3H"},{"t":3.6,"y":1.90,"s":"Act.St3H"},{"t":3.8,"y":1.68,"s":"Act.St3H"},{"t":4.0,"y":1.48,"s":"Act.St3H"},{"t":4.2,"y":1.30,"s":"Act.St3H"},
      {"t":-3.7,"y":0.01,"s":"Act.St3H"},{"t":-3.5,"y":0.01,"s":"Act.St3H"},{"t":-3.3,"y":0.02,"s":"Act.St3H"},{"t":-3.1,"y":0.02,"s":"Act.St3H"},{"t":-2.9,"y":0.03,"s":"Act.St3H"},{"t":-2.7,"y":0.03,"s":"Act.St3H"},{"t":-2.5,"y":0.04,"s":"Act.St3H"},{"t":-2.3,"y":0.04,"s":"Act.St3H"},{"t":-2.1,"y":0.05,"s":"Act.St3H"},{"t":-1.9,"y":0.06,"s":"Act.St3H"},{"t":-1.7,"y":0.07,"s":"Act.St3H"},{"t":-1.5,"y":0.08,"s":"Act.St3H"},{"t":-1.3,"y":0.10,"s":"Act.St3H"},{"t":-1.1,"y":0.16,"s":"Act.St3H"},{"t":-0.9,"y":0.24,"s":"Act.St3H"},{"t":-0.7,"y":0.38,"s":"Act.St3H"},{"t":-0.5,"y":0.56,"s":"Act.St3H"},{"t":-0.3,"y":0.78,"s":"Act.St3H"},{"t":-0.1,"y":1.04,"s":"Act.St3H"},{"t":0.1,"y":1.34,"s":"Act.St3H"},{"t":0.3,"y":1.64,"s":"Act.St3H"},{"t":0.5,"y":1.86,"s":"Act.St3H"},{"t":0.7,"y":2.08,"s":"Act.St3H"},{"t":0.9,"y":2.32,"s":"Act.St3H"},{"t":1.1,"y":2.60,"s":"Act.St3H"},{"t":1.3,"y":3.00,"s":"Act.St3H"},{"t":1.5,"y":3.40,"s":"Act.St3H"},{"t":1.7,"y":3.70,"s":"Act.St3H"},{"t":1.9,"y":3.88,"s":"Act.St3H"},{"t":2.1,"y":3.92,"s":"Act.St3H"},{"t":2.3,"y":3.86,"s":"Act.St3H"},{"t":2.5,"y":3.72,"s":"Act.St3H"},{"t":2.7,"y":3.54,"s":"Act.St3H"},{"t":2.9,"y":3.32,"s":"Act.St3H"},{"t":3.1,"y":3.08,"s":"Act.St3H"},{"t":3.3,"y":2.80,"s":"Act.St3H"},{"t":3.5,"y":2.52,"s":"Act.St3H"},{"t":3.7,"y":2.24,"s":"Act.St3H"},{"t":3.9,"y":2.00,"s":"Act.St3H"},{"t":4.1,"y":1.78,"s":"Act.St3H"},{"t":4.3,"y":1.60,"s":"Act.St3H"}
    ]
  },
  "hconcat": [
    {
      "width": 225, "height": 800,
      "title": "C2P2D3A1 Stage 1 All Reps",
      "encoding": {
        "x": {"field": "t", "type": "quantitative", "scale": {"domain": [-4.12, 4.62], "nice": false, "zero": false},
              "axis": {"title": "Theta", "values": [-4,-3.8,-3.6,-3.4,-3.2,-3,-2.8,-2.6,-2.4,-2.2,-2,-1.8,-1.6,-1.4,-1.2,-1,-0.8,-0.6,-0.4,-0.2,0,0.2,0.4,0.6,0.8,1,1.2,1.4,1.6,1.8,2,2.2,2.4,2.6,2.8,3,3.2,3.4,3.6,3.8,4], "labelExpr": "indexof([-4,-2.2,0,1.6,3.6], datum.value) >= 0 ? '' + datum.value : ''", "tickSize": 15, "labelPadding": 27, "titlePadding": 37}},
        "y": {"field": "y", "type": "quantitative", "scale": {"domain": [-0.36, 9.22], "nice": false, "zero": false},
              "axis": {"title": null, "values": [0,2,4,6,8], "labelExpr": "'' + datum.value", "labelAngle": -90, "labelAlign": "center", "labelBaseline": "bottom", "tickSize": 18, "labelPadding": 21}}
      },
      "layer": [
        {"data": {"name": "p1tar"}, "mark": {"type": "line", "strokeWidth": 2.5, "clip": true},
         "encoding": {"stroke": {"field": "s", "type": "nominal", "scale": {"domain": ["Tar.St1M"], "range": ["#FF0000"]}, "legend": null}}},
        {"data": {"name": "p1act"}, "mark": {"type": "point", "filled": false, "fill": "black", "fillOpacity": 1, "strokeWidth": 2.5, "size": 200, "opacity": 1, "clip": true},
         "encoding": {
           "color": {"field": "s", "type": "nominal", "scale": {"domain": ["Tar.St1M", "Act.St1M"], "range": ["#FF0000", "black"]}, "legend": {"title": null}},
           "shape": {"field": "s", "type": "nominal", "scale": {"domain": ["Tar.St1M", "Act.St1M"], "range": ["M-4,0L4,0", "circle"]}, "legend": {"title": null}}
         }}
      ]
    },
    {
      "width": 225, "height": 800,
      "title": "C2P2D3A1 Stage 2 All Reps",
      "encoding": {
        "x": {"field": "t", "type": "quantitative", "scale": {"domain": [-4.12, 4.5], "nice": false, "zero": false},
              "axis": {"title": "Theta", "values": [-4,-3.8,-3.6,-3.4,-3.2,-3,-2.8,-2.6,-2.4,-2.2,-2,-1.8,-1.6,-1.4,-1.2,-1,-0.8,-0.6,-0.4,-0.2,0,0.2,0.4,0.6,0.8,1,1.2,1.4,1.6,1.8,2,2.2,2.4,2.6,2.8,3,3.2,3.4,3.6,3.8,4], "labelExpr": "indexof([-4,-2.2,0,1.6,3.6], datum.value) >= 0 ? '' + datum.value : ''", "tickSize": 15, "labelPadding": 27, "titlePadding": 37}},
        "y": {"field": "y", "type": "quantitative", "scale": {"domain": [-0.36, 9.22], "nice": false, "zero": false},
              "axis": {"title": "................", "titleColor": "#aeeef2", "titleFontSize": 30, "titlePadding": 35, "values": [0,2,4,6,8], "labelExpr": "'' + datum.value", "labelAngle": -90, "labelAlign": "center", "labelBaseline": "bottom", "tickSize": 18, "labelPadding": 21}}
      },
      "layer": [
        {"data": {"name": "p2tar"}, "mark": {"type": "line", "strokeWidth": 2.5, "clip": true},
         "encoding": {"stroke": {"field": "s", "type": "nominal", "scale": {"domain": ["Tar.St.2LM", "Tar.St.2MH"], "range": ["#FFA500", "#00CD66"]}, "legend": null}}},
        {"data": {"name": "p2act"}, "mark": {"type": "point", "filled": false, "size": 290, "strokeWidth": 5, "opacity": 1, "clip": true},
         "encoding": {
           "color": {"field": "s", "type": "nominal", "scale": {"domain": ["Tar.St.2LM", "Tar.St.2MH", "Act.St.2LM", "Act.St.2MH"], "range": ["#FFA500", "#00CD66", "black", "black"]}, "legend": {"title": null}},
           "shape": {"field": "s", "type": "nominal", "scale": {"domain": ["Tar.St.2LM", "Tar.St.2MH", "Act.St.2LM", "Act.St.2MH"], "range": ["M-4,0L4,0", "M-4,0L4,0", "triangle-up", "circle"]}, "legend": {"title": null}}
         }}
      ]
    },
    {
      "width": 222, "height": 800,
      "title": "C2P2D3A1 Stage 2 All Reps",
      "encoding": {
        "x": {"field": "t", "type": "quantitative", "scale": {"domain": [-4.12, 4.42], "nice": false, "zero": false},
              "axis": {"title": "Theta", "values": [-4,-3.8,-3.6,-3.4,-3.2,-3,-2.8,-2.6,-2.4,-2.2,-2,-1.8,-1.6,-1.4,-1.2,-1,-0.8,-0.6,-0.4,-0.2,0,0.2,0.4,0.6,0.8,1,1.2,1.4,1.6,1.8,2,2.2,2.4,2.6,2.8,3,3.2,3.4,3.6,3.8,4], "labelExpr": "indexof([-4,-2.2,0,1.6,3.6], datum.value) >= 0 ? '' + datum.value : ''", "tickSize": 15, "labelPadding": 27, "titlePadding": 37}},
        "y": {"field": "y", "type": "quantitative", "scale": {"domain": [-0.36, 9.22], "nice": false, "zero": false},
              "axis": {"title": "................", "titleColor": "#aeeef2", "titleFontSize": 30, "titlePadding": 35, "values": [0,2,4,6,8], "labelExpr": "'' + datum.value", "labelAngle": -90, "labelAlign": "center", "labelBaseline": "bottom", "tickSize": 18, "labelPadding": 21}}
      },
      "layer": [
        {"data": {"name": "p3tar"}, "mark": {"type": "line", "strokeWidth": 2.5, "clip": true},
         "encoding": {"stroke": {"field": "s", "type": "nominal", "scale": {"domain": ["Tar.St.3L", "Tar.St.3M", "Tar.St.3H"], "range": ["#A020F0", "#A52A2A", "#FF69B4"]}, "legend": null}}},
        {"data": {"name": "p3act"}, "mark": {"type": "point", "filled": false, "size": 290, "strokeWidth": 5, "opacity": 1, "clip": true},
         "encoding": {
           "color": {"field": "s", "type": "nominal", "scale": {"domain": ["Tar.St.3L", "Tar.St.3M", "Tar.St.3H", "Act.St.3L", "Act.St.3M", "Act.St3H"], "range": ["#A020F0", "#A52A2A", "#FF69B4", "black", "black", "black"]}, "legend": {"title": null}},
           "shape": {"field": "s", "type": "nominal", "scale": {"domain": ["Tar.St.3L", "Tar.St.3M", "Tar.St.3H", "Act.St.3L", "Act.St.3M", "Act.St3H"], "range": ["M-4,0L4,0", "M-4,0L4,0", "M-4,0L4,0", "triangle-up", "circle", "diamond"]}, "legend": {"title": null}}
         }}
      ]
    }
  ]
}
